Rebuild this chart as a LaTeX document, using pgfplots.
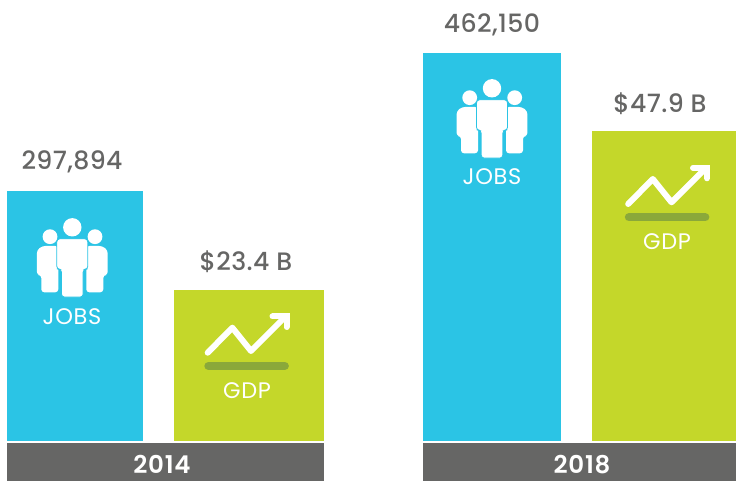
\documentclass[border=0pt]{standalone}
\usepackage{fontspec}
\setmainfont{Poppins}
\newfontfamily\valfont[LetterSpace=1.5]{Poppins Medium}
\newfontfamily\lblfont[LetterSpace=3]{Poppins}
\newfontfamily\yearfont[LetterSpace=3]{Poppins SemiBold}
\usepackage{pgfplots}
\pgfplotsset{compat=1.18}
\definecolor{cblue}{HTML}{2BC4E5}
\definecolor{cgreen}{HTML}{C4D72A}
\definecolor{cgrey}{HTML}{666665}
\definecolor{cdark}{HTML}{8AA83A}
\pgfplotsset{base/.style={scale only axis,width=736pt,height=481pt,at={(0,0)},anchor=south west,hide axis,xmin=0,xmax=736,ybar,bar shift=0pt,clip=false}}
\newcommand\onebar[4]{\addplot[ybar,bar width=#1pt,bar shift=0pt,fill=#2,draw=none] coordinates {(#3,#4)};}
\newcommand\people[3]{%
\begin{scope}[shift={(#1,#2)}]
 \fill[white] (-22.3,9.4) circle (7.4) (22.7,9.4) circle (7.4);
 \foreach \s in {-1,1}{
 \fill[white,xscale=\s,rounded corners=3pt] (14,18.7) -- (30,18.7) -- (35.4,23) -- (35.4,47.7) -- (31,47.7) -- (31,65) -- (14,65) -- cycle;}
 \fill[white] (0,0) circle (9.2);
 \fill[white,draw=#3,line width=.8pt,rounded corners=3pt] (-15.5,11.5) -- (15.5,11.5) -- (15.5,42) -- (10.8,42) -- (10.8,69.8) -- (-10.8,69.8) -- (-10.8,42) -- (-15.5,42) -- cycle;
\end{scope}}
\newcommand\trend[2]{%
\begin{scope}[shift={(#1,#2)}]
 \draw[white,line width=6pt,line cap=round,line join=round] (207.7,352.7) -- (232.3,327.7) -- (251,351) -- (284,318);
 \draw[white,line width=6pt,line cap=round,line join=miter] (272.5,316.5) -- (286.5,316.5) -- (286.5,327);
 \draw[cdark,line width=8.4pt,line cap=round] (208.5,366) -- (284.7,366);
\end{scope}}
\begin{document}
\begin{tikzpicture}
\path[use as bounding box] (0,0) rectangle (736pt,481pt);
\begin{axis}[base,ymin=-47644,ymax=525275]
 \onebar{136}{cblue}{75}{297894}
 \onebar{138}{cblue}{492}{462150}
 \fill[cgrey] (axis cs:7,-2382) rectangle (axis cs:324,-47644);
 \fill[cgrey] (axis cs:423,-2382) rectangle (axis cs:736,-47644);
\end{axis}
\begin{axis}[base,ymin=-6.181,ymax=68.14]
 \onebar{150}{cgreen}{249}{23.4}
 \onebar{144}{cgreen}{664}{47.9}
\end{axis}
\begin{scope}[shift={(0,481pt)},x=1pt,y=-1pt]
 \people{72.3}{227.3}{cblue}
 \people{492}{88.3}{cblue}
 \trend{0}{0}
 \trend{420.5}{-148.7}
 \tikzset{v/.style={text=cgrey,font=\valfont\fontsize{25.2}{25}\selectfont,anchor=center,inner sep=0pt},
          w/.style={text=white,font=\lblfont\fontsize{22.5}{22}\selectfont,anchor=center,inner sep=0pt},
          h/.style={text=white,font=\yearfont\fontsize{24.5}{25}\selectfont,anchor=center,inner sep=0pt}}
 \node[v] at (72,162) {297,894};
 \node[v] at (246,262) {\$23.4 B};
 \node[v] at (492,25) {462,150};
 \node[v] at (660,104) {\$47.9 B};
 \node[w] at (72,316.5) {JOBS};
 \node[w] at (492,176.5) {JOBS};
 \node[w] at (247,390.5) {GDP};
 \node[w] at (667,241.5) {GDP};
 \node[h] at (162,464.5) {2014};
 \node[h] at (582,464.5) {2018};
\end{scope}
\end{tikzpicture}
\end{document}
